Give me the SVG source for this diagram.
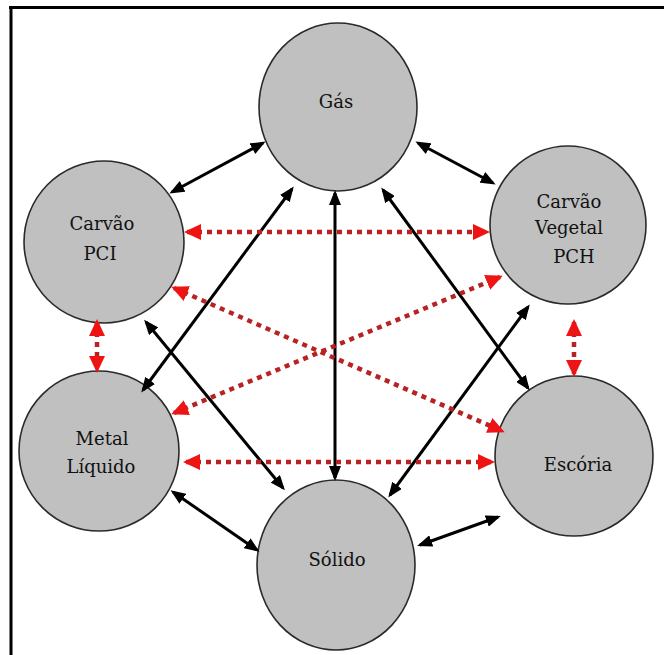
<svg xmlns="http://www.w3.org/2000/svg" width="664" height="655" viewBox="0 0 664 655">
<defs>
<style>
.node{fill:#c0c0c0;stroke:#2a2a2a;stroke-width:1.6}
.lbl{font-family:"DejaVu Serif","Liberation Serif",serif;font-size:18px;fill:#111;text-anchor:middle}
.blk{stroke:#000;stroke-width:3;fill:none;marker-start:url(#ab);marker-end:url(#ab)}
.red{stroke:#b82222;stroke-width:4.5;stroke-dasharray:5 5;fill:none;marker-start:url(#ar);marker-end:url(#ar)}
</style>
<marker id="ab" markerUnits="userSpaceOnUse" markerWidth="15" markerHeight="12" refX="12" refY="6" orient="auto-start-reverse" viewBox="0 0 15 12">
<path d="M0,0 L15,6 L0,12 z" fill="#000"/>
</marker>
<marker id="ar" markerUnits="userSpaceOnUse" markerWidth="17" markerHeight="16" refX="14" refY="8" orient="auto-start-reverse" viewBox="0 0 17 16">
<path d="M0,0 L17,8 L0,16 z" fill="#ee1414"/>
</marker>
</defs>
<rect width="664" height="655" fill="#fff"/>
<line x1="9" y1="7.5" x2="664" y2="7.5" stroke="#000" stroke-width="3"/>
<line x1="11" y1="6" x2="11" y2="655" stroke="#000" stroke-width="3"/>

<g id="gas"><ellipse class="node" cx="338" cy="107" rx="79" ry="84"/><text class="lbl" x="336" y="108">Gás</text></g>
<g id="carvao-pci"><ellipse class="node" cx="104" cy="242" rx="80" ry="81"/><text class="lbl" x="102" y="230">Carvão</text><text class="lbl" x="100" y="260">PCI</text></g>
<g id="carvao-vegetal"><ellipse class="node" cx="568" cy="225" rx="78" ry="79"/><text class="lbl" x="569" y="208">Carvão</text><text class="lbl" x="569" y="234">Vegetal</text><text class="lbl" x="574" y="263">PCH</text></g>
<g id="metal-liquido"><ellipse class="node" cx="99" cy="451" rx="80" ry="80"/><text class="lbl" x="102" y="445">Metal</text><text class="lbl" x="101" y="473">Líquido</text></g>
<g id="escoria"><ellipse class="node" cx="574" cy="456" rx="79" ry="80"/><text class="lbl" x="578" y="471">Escória</text></g>
<g id="solido"><ellipse class="node" cx="336" cy="565" rx="79" ry="85"/><text class="lbl" x="337" y="566">Sólido</text></g>

<g id="connectors">
<line class="blk" x1="172" y1="192" x2="263" y2="143"/>
<line class="blk" x1="418" y1="143" x2="493" y2="183"/>
<line class="blk" x1="292" y1="189" x2="143" y2="390"/>
<line class="blk" x1="335" y1="193" x2="335" y2="478"/>
<line class="blk" x1="383" y1="190" x2="528" y2="388"/>
<line class="blk" x1="146" y1="322" x2="283" y2="488"/>
<line class="blk" x1="528" y1="307" x2="390" y2="495"/>
<line class="blk" x1="173" y1="492" x2="257" y2="550"/>
<line class="blk" x1="420" y1="545" x2="498" y2="517"/>
<line class="red" x1="187" y1="232" x2="487" y2="232"/>
<line class="red" x1="186" y1="462" x2="492" y2="462"/>
<line class="red" x1="174" y1="288" x2="502" y2="431"/>
<line class="red" x1="174" y1="413" x2="500" y2="277"/>
<line class="red" x1="97" y1="322" x2="97" y2="370"/>
<line class="red" x1="574" y1="322" x2="574" y2="374"/>
</g>
</svg>
